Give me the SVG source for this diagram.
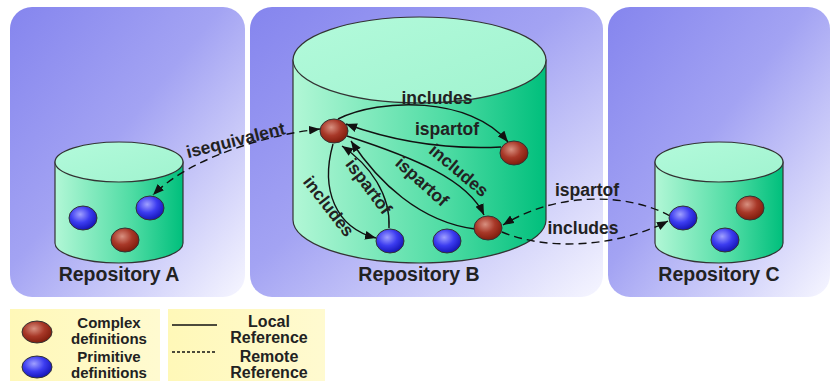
<svg xmlns="http://www.w3.org/2000/svg" width="830" height="383" viewBox="0 0 830 383">
<defs>
<linearGradient id="panel" x1="0" y1="0" x2="1" y2="1">
<stop offset="0" stop-color="#8585ee"/>
<stop offset="0.45" stop-color="#a3a3f3"/>
<stop offset="1" stop-color="#f6f6ff"/>
</linearGradient>
<linearGradient id="body" x1="0" y1="0" x2="1" y2="0">
<stop offset="0" stop-color="#b2f7d6"/>
<stop offset="0.6" stop-color="#4fdca4"/>
<stop offset="1" stop-color="#00bf7c"/>
</linearGradient>
<linearGradient id="topg" x1="0" y1="0" x2="1" y2="1">
<stop offset="0" stop-color="#b3fadb"/>
<stop offset="1" stop-color="#a0f3cf"/>
</linearGradient>
<radialGradient id="red" cx="0.4" cy="0.35" r="0.7">
<stop offset="0" stop-color="#d89080"/>
<stop offset="0.5" stop-color="#a83828"/>
<stop offset="1" stop-color="#7a1808"/>
</radialGradient>
<radialGradient id="blue" cx="0.4" cy="0.35" r="0.7">
<stop offset="0" stop-color="#a0a0ff"/>
<stop offset="0.5" stop-color="#3c3cf0"/>
<stop offset="1" stop-color="#1010b0"/>
</radialGradient>
<linearGradient id="legend" x1="0" y1="0" x2="1" y2="0">
<stop offset="0" stop-color="#fff8b8"/>
<stop offset="1" stop-color="#fffad0"/>
</linearGradient>
<marker id="ah" viewBox="0 0 10 8" refX="10" refY="4" markerWidth="11" markerHeight="9" markerUnits="userSpaceOnUse" orient="auto-start-reverse">
<path d="M0,0 L10,4 L0,8 Z" fill="#111"/>
</marker>
</defs>
<style>
.panel{fill:url(#panel)}
.body{fill:url(#body);stroke:#333;stroke-width:1.2}
.top{fill:url(#topg);stroke:#333;stroke-width:1.2}
.cx{fill:url(#red);stroke:#333;stroke-width:1}
.pr{fill:url(#blue);stroke:#333;stroke-width:1}
.t{font-family:"Liberation Sans",Arial,sans-serif;font-weight:bold;fill:#222;text-anchor:middle}
.repo{font-size:19.5px}
.lbl{font-size:17.5px}
.leg{font-size:15px}
.leg2{font-size:16px}
.loc{fill:none;stroke:#111;stroke-width:1.4}
.rem{fill:none;stroke:#111;stroke-width:1.4;stroke-dasharray:8 5}
</style>
<rect width="830" height="383" fill="#ffffff"/>
<g id="panelA"><rect class="panel" x="10" y="7" width="235" height="290" rx="22"/></g>
<g id="panelB"><rect class="panel" x="250" y="7" width="353" height="290" rx="22"/></g>
<g id="panelC"><rect class="panel" x="608" y="7" width="222" height="290" rx="22"/></g>

<g id="repoA">
<path class="body" d="M55,162 L55,243 A64,20 0 0 0 183,243 L183,162 Z"/>
<ellipse class="top" cx="119" cy="162" rx="64" ry="20"/>
<text class="t repo" x="119" y="281">Repository A</text>
</g>
<g id="repoB">
<path class="body" d="M293,60 L293,220 A126.5,43 0 0 0 546,220 L546,60 Z"/>
<ellipse class="top" cx="419.5" cy="60" rx="126.5" ry="43"/>
<text class="t repo" x="419" y="281">Repository B</text>
</g>
<g id="repoC">
<path class="body" d="M655,162 L655,243 A64,20 0 0 0 783,243 L783,162 Z"/>
<ellipse class="top" cx="719" cy="162" rx="64" ry="20"/>
<text class="t repo" x="719" y="281">Repository C</text>
</g>

<g id="connectors">
<path class="rem" d="M320,129 C265,135 190,158 153,195" marker-start="url(#ah)" marker-end="url(#ah)"/>
<path class="loc" d="M338,119 C380,98 470,96 508,142" marker-end="url(#ah)"/>
<path class="loc" d="M501,147 C440,150 390,140 346,124" marker-end="url(#ah)"/>
<path class="loc" d="M347,136 C415,158 468,180 484,215" marker-end="url(#ah)"/>
<path class="loc" d="M475,229 C420,222 378,182 351,141" marker-end="url(#ah)"/>
<path class="loc" d="M389,228 C391,195 370,165 342,146" marker-end="url(#ah)"/>
<path class="loc" d="M333,144 C320,190 336,228 376,238" marker-end="url(#ah)"/>
<path class="rem" d="M670,216 C630,194 560,190 503,225" marker-end="url(#ah)"/>
<path class="rem" d="M502,232 C550,252 620,246 668,221" marker-end="url(#ah)"/>
<text class="t lbl" transform="translate(237,146) rotate(-14)">isequivalent</text>
<text class="t lbl" x="437" y="104">includes</text>
<text class="t lbl" x="447" y="135">ispartof</text>
<text class="t lbl" transform="translate(455,175) rotate(40)">includes</text>
<text class="t lbl" transform="translate(418,186) rotate(42)">ispartof</text>
<text class="t lbl" transform="translate(364,190) rotate(53)">ispartof</text>
<text class="t lbl" transform="translate(324,210) rotate(52)">includes</text>
<text class="t lbl" x="587" y="196">ispartof</text>
<text class="t lbl" x="583" y="234">includes</text>
</g>

<g id="nodeA1"><ellipse class="pr" cx="83" cy="218" rx="14" ry="12"/></g>
<g id="nodeA2"><ellipse class="pr" cx="150" cy="208" rx="14" ry="12"/></g>
<g id="nodeA3"><ellipse class="cx" cx="125" cy="240" rx="14" ry="12"/></g>
<g id="nodeB1"><ellipse class="cx" cx="334" cy="131" rx="14" ry="12"/></g>
<g id="nodeB2"><ellipse class="cx" cx="514" cy="153" rx="14" ry="12"/></g>
<g id="nodeB3"><ellipse class="pr" cx="390" cy="241" rx="14" ry="12"/></g>
<g id="nodeB4"><ellipse class="pr" cx="447" cy="241" rx="14" ry="12"/></g>
<g id="nodeB5"><ellipse class="cx" cx="488" cy="228" rx="14" ry="12"/></g>
<g id="nodeC1"><ellipse class="pr" cx="683" cy="218" rx="14" ry="12"/></g>
<g id="nodeC2"><ellipse class="cx" cx="750" cy="208" rx="14" ry="12"/></g>
<g id="nodeC3"><ellipse class="pr" cx="725" cy="240" rx="14" ry="12"/></g>

<g id="legend1">
<rect x="10" y="309" width="150" height="72" fill="url(#legend)"/>
<ellipse class="cx" cx="37" cy="332" rx="15" ry="11"/>
<ellipse class="pr" cx="37" cy="367" rx="15" ry="11"/>
<text class="t leg" x="109" y="328">Complex</text>
<text class="t leg" x="109" y="344">definitions</text>
<text class="t leg" x="109" y="362">Primitive</text>
<text class="t leg" x="109" y="378">definitions</text>
</g>
<g id="legend2">
<rect x="168" y="309" width="157" height="72" fill="url(#legend)"/>
<line x1="172" y1="325" x2="217" y2="325" stroke="#111" stroke-width="1.5"/>
<line x1="172" y1="352" x2="217" y2="352" stroke="#111" stroke-width="1.5" stroke-dasharray="3 2"/>
<text class="t leg2" x="269" y="327">Local</text>
<text class="t leg2" x="269" y="343">Reference</text>
<text class="t leg2" x="269" y="362">Remote</text>
<text class="t leg2" x="269" y="378">Reference</text>
</g>
</svg>
